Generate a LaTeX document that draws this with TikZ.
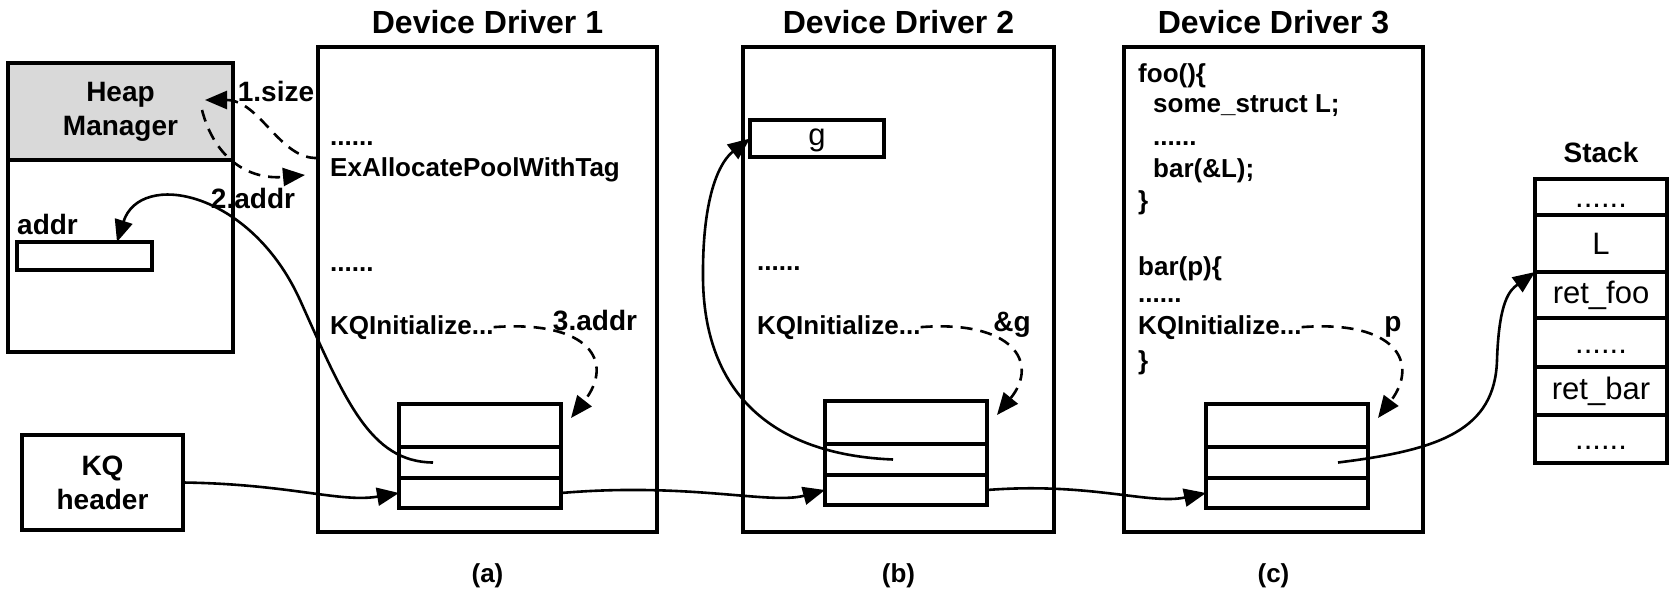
\documentclass[tikz,border=0pt]{standalone}
\usepackage{fontspec}
\setmainfont{Liberation Sans}
\usetikzlibrary{arrows.meta, positioning}

\begin{document}
\begin{tikzpicture}[x=1pt, y=-1pt,
  box/.style={draw, line width=3.6pt, inner sep=0pt, outer sep=0pt},
  hdr/.style={box, align=center, font=\fontsize{28}{34}\selectfont\bfseries},
  qrow/.style={box, minimum width=162},
  stk/.style={box, minimum width=132, font=\fontsize{31}{36}\selectfont},
  ttl/.style={inner sep=0pt, font=\fontsize{32}{38}\selectfont\bfseries},
  sub/.style={inner sep=0pt, font=\fontsize{26}{31}\selectfont\bfseries},
  code/.style={anchor=base west, inner sep=0pt, font=\fontsize{26}{31}\selectfont\bfseries},
  lbl/.style={anchor=base, inner sep=0pt, font=\fontsize{28}{33}\selectfont\bfseries},
  arr/.style={-{Triangle[length=22pt, width=18pt]}, line width=2.6pt},
  dsh/.style={arr, dash pattern=on 12pt off 8pt},
]
  \useasboundingbox (0,0) rectangle (1669,596);

  \node[hdr, fill=gray!30, minimum width=225, minimum height=97, anchor=north west] (heap) at (8,63) {Heap\\Manager};
  \node[box, minimum width=225, minimum height=192, below=0pt of heap] (heapmem) {};
  \node[box, minimum width=135, minimum height=28, anchor=north west] (addrbox) at (17,242) {};
  \node[code, above=7pt of addrbox.north west, anchor=south west, font=\fontsize{28}{33}\selectfont\bfseries] (addr) {addr};
  \node[hdr, minimum width=161, minimum height=95, anchor=north west] (kq) at (22,435) {KQ\\header};

  \node[box, minimum width=339, minimum height=485, anchor=north west] (dd1) at (318,47) {};
  \node[ttl, above=13pt of dd1] (t1) {Device Driver 1};
  \node[sub, below=31pt of dd1] (capa) {(a)};
  \node[code] (e1) at (330,146) {......};
  \node[code] (alloc) at (330,177) {ExAllocatePoolWithTag};
  \node[code] (e2) at (330,271) {......};
  \node[code] (kqi1) at (330,334) {KQInitialize...};
  \node[qrow, minimum height=43, anchor=north west] (q1a) at (399,404) {};
  \node[qrow, minimum height=31, below=0pt of q1a] (q1b) {};
  \node[qrow, minimum height=30, below=0pt of q1b] (q1c) {};

  \node[box, minimum width=311, minimum height=485, anchor=north west] (dd2) at (743,47) {};
  \node[ttl, above=13pt of dd2] (t2) {Device Driver 2};
  \node[sub, below=31pt of dd2] (capb) {(b)};
  \node[box, minimum width=134, minimum height=37, anchor=north west, font=\fontsize{31}{36}\selectfont] (gvar) at (750,120) {\vphantom{L}g};
  \node[code] (e3) at (757,270) {......};
  \node[code] (kqi2) at (757,334) {KQInitialize...};
  \node[qrow, minimum height=43, anchor=north west] (q2a) at (825,401) {};
  \node[qrow, minimum height=31, below=0pt of q2a] (q2b) {};
  \node[qrow, minimum height=30, below=0pt of q2b] (q2c) {};

  \node[box, minimum width=299, minimum height=485, anchor=north west] (dd3) at (1124,47) {};
  \node[ttl, above=13pt of dd3] (t3) {Device Driver 3};
  \node[sub, below=31pt of dd3] (capc) {(c)};
  \node[code] (f1) at (1138,83) {foo()\{};
  \node[code] (f2) at (1153,113) {some\_struct L;};
  \node[code] (f3) at (1153,146) {......};
  \node[code] (f4) at (1153,178) {bar(\&L);};
  \node[code] (f5) at (1138,209) {\}};
  \node[code] (f6) at (1138,275) {bar(p)\{};
  \node[code] (f7) at (1138,302) {......};
  \node[code] (kqi3) at (1138,334) {KQInitialize...};
  \node[code] (f8) at (1138,369) {\}};
  \node[qrow, minimum height=43, anchor=north west] (q3a) at (1206,404) {};
  \node[qrow, minimum height=31, below=0pt of q3a] (q3b) {};
  \node[qrow, minimum height=30, below=0pt of q3b] (q3c) {};

  \node[stk, minimum height=36, anchor=north west] (s1) at (1535,179) {\vphantom{L}......};
  \node[stk, minimum height=57, below=0pt of s1] (s2) {L};
  \node[stk, minimum height=46, below=0pt of s2] (s3) {ret\_foo};
  \node[stk, minimum height=49, below=0pt of s3] (s4) {\vphantom{L}......};
  \node[stk, minimum height=48, below=0pt of s4] (s5) {ret\_bar};
  \node[stk, minimum height=48, below=0pt of s5] (s6) {\vphantom{L}......};
  \node[ttl, above=16pt of s1, font=\fontsize{28}{33}\selectfont\bfseries] (stack) {Stack};

  \coordinate (h1) at (205,100);
  \coordinate (h2) at (202,110);
  \coordinate (d1) at (dd1.west |- alloc.north);
  \coordinate (d2) at (305,175);
  \draw[dsh] (d1) .. controls (280,160) and (260,100) .. (h1);
  \draw[dsh] (h2) .. controls (215,160) and (250,180) .. (d2);
  \node[lbl] (l1) at (276,102) {1.size};
  \node[lbl] (l2) at (253,208) {2.addr};

  \draw[dsh] (kqi1.east) .. controls (590,320) and (615,362) .. ([shift={(10,14)}]q1a.north east);
  \draw[dsh] (kqi2.east) .. controls (1012,320) and (1040,362) .. ([shift={(10,14)}]q2a.north east);
  \draw[dsh] (kqi3.east) .. controls (1395,320) and (1420,362) .. ([shift={(10,14)}]q3a.north east);
  \node[lbl] (l3) at (595,330) {3.addr};
  \node[lbl] (l4) at (1012,331) {\&g};
  \node[lbl] (l5) at (1393,331) {p};

  \coordinate (m1) at ([xshift=34pt]q1b.west);
  \coordinate (m2) at ([xshift=68pt]q2b.west);
  \coordinate (m3) at ([xshift=132pt]q3b.west);
  \draw[arr] (m1) .. controls (370,462) and (345,400) .. (300,300) .. controls (250,190) and (140,170) .. ([xshift=100pt]addrbox.north west);
  \draw[arr] (m2) .. controls (780,455) and (705,400) .. (703,280) .. controls (702,190) and (722,160) .. (gvar.west);
  \draw[arr] (m3) .. controls (1440,450) and (1495,430) .. (1497,360) .. controls (1499,300) and (1510,290) .. (s2.south west);

  \draw[arr] (kq.east) .. controls (290,484) and (340,503) .. (q1c.west);
  \draw[arr] (q1c.east) .. controls (690,482) and (770,505) .. (q2c.west);
  \draw[arr] (q2c.east) .. controls (1090,482) and (1150,505) .. (q3c.west);
\end{tikzpicture}
\end{document}
